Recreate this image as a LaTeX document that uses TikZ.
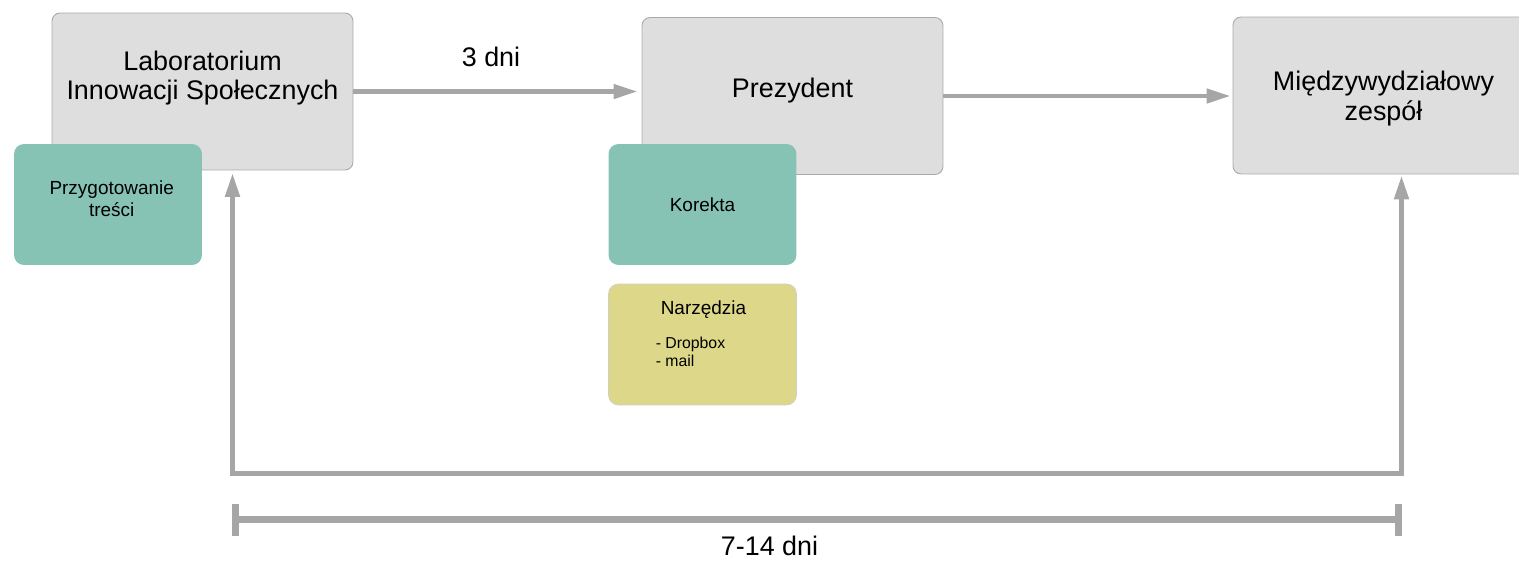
\documentclass[tikz,border=0pt]{standalone}
\usepackage{fontspec}
\setmainfont{Liberation Sans}
\usetikzlibrary{arrows.meta}

\definecolor{boxfill}{HTML}{DEDEDE}
\definecolor{boxline}{HTML}{A9A9A9}
\definecolor{flowgray}{HTML}{A6A6A6}
\definecolor{notegreen}{HTML}{87C3B5}
\definecolor{toolyellow}{HTML}{DDD78A}
\definecolor{toolline}{HTML}{CFCFC2}

\newcommand{\bigtext}{\fontsize{15.3pt}{17pt}\selectfont}
\newcommand{\notetext}{\fontsize{10.8pt}{12.9pt}\selectfont}
\newcommand{\listtext}{\fontsize{9pt}{10.2pt}\selectfont}

\begin{document}
\begin{tikzpicture}[x=0.02cm, y=-0.02cm, >={Triangle[length=0.48cm, width=0.28cm]},
	mainbox/.style={draw=boxline, fill=boxfill, line width=0.5pt, rounded corners=0.16cm, minimum width=6.02cm, minimum height=3.14cm, align=center, font=\bigtext},
	notebox/.style={fill=notegreen, rounded corners=0.2cm, minimum width=3.76cm, minimum height=2.42cm, align=center, font=\notetext},
	toolbox/.style={notebox, fill=toolyellow, draw=toolline, line width=0.4pt, align=left, font=\listtext},
	flow/.style={draw=flowgray, line width=0.09cm}]
	\useasboundingbox (0,0) rectangle (1519,562);

	\node[mainbox] at (202.5,91.5) (lab) {Laboratorium\\Innowacji Społecznych\rule[-0.65cm]{0pt}{0pt}};
	\node[notebox] at (108,204.5) (content) {\hspace*{0.15cm}Przygotowanie\\\hspace*{0.15cm}treści\rule[-0.24cm]{0pt}{0pt}};

	\node[mainbox] at (792.5,96) (president) {Prezydent\rule[-0.33cm]{0pt}{0pt}};
	\node[notebox] at (702.5,204.5) (proofreading) {Korekta};
	\node[toolbox] at (702.5,344.5) (tools) {\hspace*{0.1cm}{\notetext Narzędzia}\hspace*{0.06cm}\\[0.32cm]- Dropbox\\- mail\rule[-0.42cm]{0pt}{0pt}};

	\node[mainbox] at (1383.5,95.5) (team) {\rule{0pt}{0.5cm}Międzywydziałowy\\zespół};

	\draw[flow, ->, shorten >=0.08cm] (lab.east) -- (lab.east -| president.west);
	\node[font=\bigtext] at (491,56.5) (three-days) {3 dni};

	\draw[flow, ->, shorten >=0.04cm] (president.east) -- (president.east -| team.west);

	% feedback loop under the boxes
	\coordinate (loop-left) at (232.5,473);
	\coordinate (loop-right) at (1401.5,473);
	\draw[flow, line width=0.1cm, <->, shorten <=0.05cm, shorten >=0.02cm] (loop-left |- lab.south) -- (loop-left) -- (loop-right) -- (loop-right |- team.south);

	% time span
	\coordinate (span-left) at (232,519.5);
	\coordinate (span-right) at (1401.5,519.5);
	\draw[draw=flowgray, line width=0.14cm, {Bar[width=0.64cm]}-{Bar[width=0.64cm]}] (span-left) -- (span-right);
	\node[font=\bigtext] at (769.5,546) (span-days) {7-14 dni};
\end{tikzpicture}
\end{document}
